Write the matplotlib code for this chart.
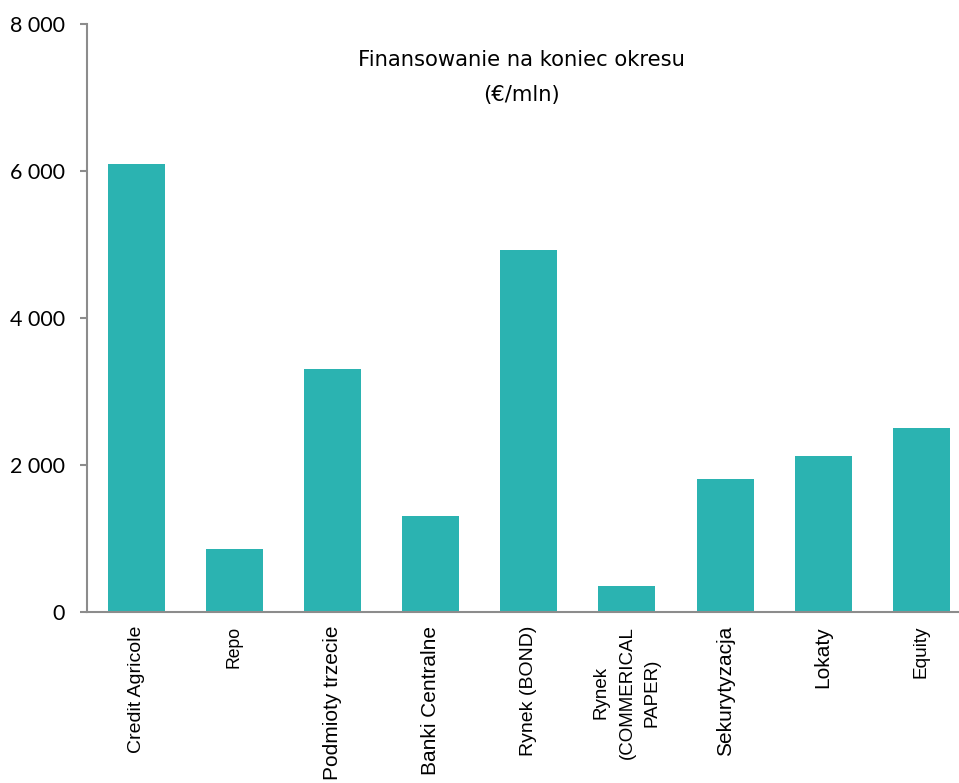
import matplotlib.pyplot as plt

# Funding at period end, EUR millions
categories = ["Credit Agricole", "Repo", "Podmioty trzecie", "Banki Centralne",
              "Rynek (BOND)", "Rynek\n(COMMERICAL\nPAPER)", "Sekurytyzacja",
              "Lokaty", "Equity"]
values = [6100, 860, 3300, 1300, 4930, 350, 1810, 2120, 2500]
label_sizes = [14, 12.7, 15, 15, 14, 13.5, 15, 15, 13.7]
y_ticks = [0, 2000, 4000, 6000, 8000]
y_tick_labels = ["0", "2 000", "4 000", "6 000", "8 000"]

fig = plt.figure(figsize=(9.59, 7.83), dpi=100)
ax = fig.add_axes([0.0907, 0.2184, 0.9093, 0.7509])

x = range(len(categories))
ax.bar(x, values, width=0.58, color="#2bb3b1")

ax.set_xlim(-0.5, 8.383)
ax.set_ylim(0, 8000)

# axes styling
for side in ("top", "right"):
    ax.spines[side].set_visible(False)
for side in ("left", "bottom"):
    ax.spines[side].set_color("#8c8c8c")
    ax.spines[side].set_linewidth(1.5)

ax.set_yticks(y_ticks)
ax.set_yticklabels(y_tick_labels, family="Lato", fontsize=15.5)
ax.tick_params(axis="y", length=5, width=1.5, color="#8c8c8c", pad=11)

ax.set_xticks(list(x))
ax.set_xticklabels(categories, rotation=90, va="top", ha="center",
                   family="Liberation Sans", multialignment="center",
                   linespacing=1.65)
for lbl, size in zip(ax.get_xticklabels(), label_sizes):
    lbl.set_fontsize(size)
ax.tick_params(axis="x", length=0, pad=10)

ax.text(3.93, 7640, "Finansowanie na koniec okresu\n(€/mln)", ha="center",
        va="top", fontsize=15.2, family="DejaVu Sans", linespacing=1.9)

fig.savefig("out.png", dpi=100)
